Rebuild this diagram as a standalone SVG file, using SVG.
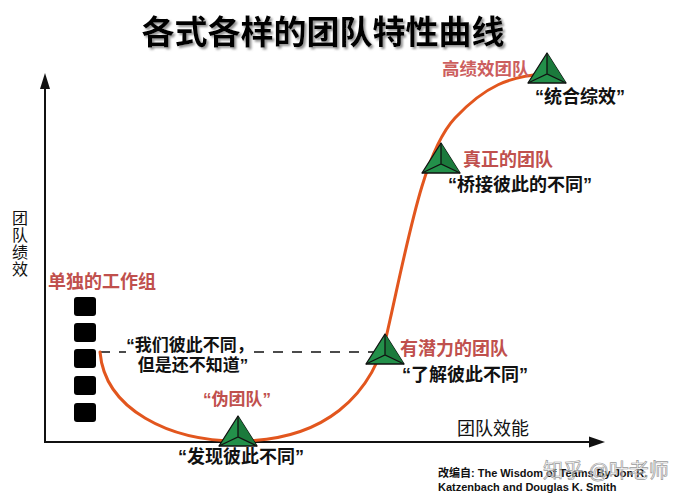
<svg xmlns="http://www.w3.org/2000/svg" width="686" height="500" viewBox="0 0 686 500">
<style>
  text { font-family: "Liberation Sans", "Noto Sans CJK SC", sans-serif; }
  .title { font-size: 33px; font-weight: bold; fill: #000; }
  .red { font-size: 18px; font-weight: bold; fill: #C0504D; }
  .blk { font-size: 18px; font-weight: bold; fill: #111; }
  .axis-label { font-size: 18px; fill: #111; }
  .vlabel { font-size: 16px; fill: #111; }
  .src { font-size: 11px; font-weight: bold; fill: #111; }
  .axis { stroke: #111; stroke-width: 2; fill: none; }
  .curve { stroke: #E2561E; stroke-width: 3; fill: none; stroke-linecap: round; }
  .dash { stroke: #111; stroke-width: 1.6; stroke-dasharray: 10 9; fill: none; }
  .sq { fill: #000; }
  .wm { font-size: 20px; fill: #ffffff; fill-opacity: 0.4; stroke: #9a9a9a; stroke-width: 0.7; }
</style>
<defs>
  <filter id="shadow" x="-5%" y="-20%" width="110%" height="150%">
    <feDropShadow dx="2" dy="2" stdDeviation="1" flood-color="#777" flood-opacity="0.8"/>
  </filter>
  <g id="tri">
    <polygon points="0,-20 -19,10 19,10" fill="#23904A" stroke="#111" stroke-width="1.3" stroke-linejoin="round"/>
    <polygon points="0,-20 0,1 19,10" fill="#1B7A3C"/>
    <path d="M0,-20 L0,1 M-19,10 L0,1 L19,10" stroke="#111" stroke-width="1.3" fill="none"/>
  </g>
</defs>
<rect width="686" height="500" fill="#fff"/>

<g id="title">
  <text class="title" x="323" y="44" text-anchor="middle" filter="url(#shadow)">各式各样的团队特性曲线</text>
</g>

<g id="connectors">
  <line class="axis" x1="45" y1="442" x2="45" y2="86"/>
  <polygon points="45,73 40,89 50,89" fill="#111"/>
  <line class="axis" x1="44" y1="442" x2="591" y2="442"/>
  <polygon points="605,442 589,436.5 589,447.5" fill="#111"/>
  <path class="dash" d="M100,352 H126"/>
  <path class="dash" d="M254,352 H378"/>
  <path class="curve" d="M100,352 C105,410 170,441 238,441 C320,441 375,400 390,320 C410,230 425,150 455,118 S510,76 545,74"/>
</g>

<g id="axis-y-label">
  <text class="vlabel" x="20" y="224" text-anchor="middle">团</text>
  <text class="vlabel" x="20" y="241" text-anchor="middle">队</text>
  <text class="vlabel" x="20" y="258" text-anchor="middle">绩</text>
  <text class="vlabel" x="20" y="275" text-anchor="middle">效</text>
</g>
<g id="axis-x-label">
  <text class="axis-label" x="457" y="435">团队效能</text>
</g>

<g id="node-workgroup">
  <text class="red" x="48" y="288">单独的工作组</text>
  <rect class="sq" x="74" y="297" width="22" height="19" rx="3"/>
  <rect class="sq" x="74" y="323" width="22" height="19" rx="3"/>
  <rect class="sq" x="74" y="349" width="22" height="19" rx="3"/>
  <rect class="sq" x="74" y="376" width="22" height="19" rx="3"/>
  <rect class="sq" x="74" y="403" width="22" height="19" rx="3"/>
  <text class="blk" x="190" y="351" text-anchor="middle" style="font-size:17px">“我们彼此不同，</text>
  <text class="blk" x="193" y="371" text-anchor="middle" style="font-size:17px">但是还不知道”</text>
</g>

<g id="node-pseudo">
  <text class="red" x="237" y="405" text-anchor="middle" style="font-size:17px">“伪团队”</text>
  <use href="#tri" x="238" y="436"/>
  <text class="blk" x="241" y="463" text-anchor="middle">“发现彼此不同”</text>
</g>

<g id="node-potential">
  <use href="#tri" x="385" y="354"/>
  <text class="red" x="400" y="355">有潜力的团队</text>
  <text class="blk" x="402" y="381">“了解彼此不同”</text>
</g>

<g id="node-real">
  <use href="#tri" x="441" y="163"/>
  <text class="red" x="463" y="166">真正的团队</text>
  <text class="blk" x="448" y="191">“桥接彼此的不同”</text>
</g>

<g id="node-high">
  <text class="red" x="442" y="75" style="font-size:17.5px;fill:#CC5E5E">高绩效团队</text>
  <use href="#tri" x="547" y="73"/>
  <text class="blk" x="535" y="103">“统合综效”</text>
</g>

<g id="source">
  <text class="src" x="438" y="477">改编自: The Wisdom of Teams By Jon R.</text>
  <text class="src" x="438" y="491">Katzenbach and Douglas K. Smith</text>
  <text class="wm" x="543" y="478">知乎 @叶老师</text>
</g>
</svg>
